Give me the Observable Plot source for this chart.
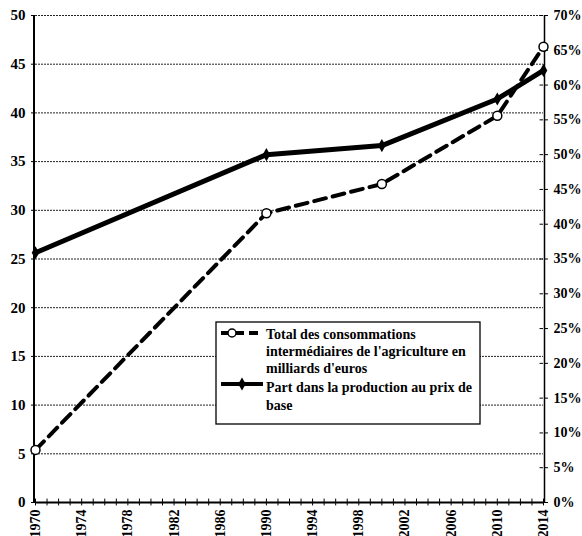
<!DOCTYPE html>
<html><head><meta charset="utf-8">
<script src="https://cdn.jsdelivr.net/npm/d3@7"></script>
<script src="https://cdn.jsdelivr.net/npm/@observablehq/plot@0.6"></script>
<style>
body{margin:0;background:#fff}
#chart{position:relative;width:582px;height:536px;overflow:hidden}
</style>
</head><body><div id="chart"></div>
<script>
const years = [1970, 1990, 2000, 2010, 2014];
const consommations = [5.4, 29.7, 32.7, 39.7, 46.8];   // milliards d'euros (left axis)
const partPct = [35.9, 50.0, 51.3, 58.0, 62.1];        // % (right axis)
const leftTicks = [0, 5, 10, 15, 20, 25, 30, 35, 40, 45, 50];
const rightTicks = [0, 5, 10, 15, 20, 25, 30, 35, 40, 45, 50, 55, 60, 65, 70];
const yearLabels = [1970, 1974, 1978, 1982, 1986, 1990, 1994, 1998, 2002, 2006, 2010, 2014];
const legendLabels = [
  ["Total des consommations", "intermédiaires de l'agriculture en", "milliards d'euros"],
  ["Part dans la production au prix de", "base"]
];

const k = 50 / 70; // right-axis % -> left-axis units
const data = years.map((y, i) => ({year: y, cons: consommations[i], part: partPct[i] * k}));
const font = "'Liberation Serif', 'Times New Roman', serif";

const plot = Plot.plot({
  width: 582,
  height: 536,
  marginTop: 15,
  marginBottom: 34,
  marginLeft: 35,
  marginRight: 39,
  style: {fontFamily: font, fontWeight: "bold", color: "#000", background: "#fff"},
  x: {domain: [1970, 2014], axis: null},
  y: {domain: [0, 50], axis: null},
  marks: [
    Plot.ruleY(leftTicks.filter(d => d > 0), {stroke: "#222", strokeWidth: 1, strokeDasharray: "2,1"}),
    Plot.axisY(leftTicks, {anchor: "left", tickSize: 4, tickPadding: 6, fontSize: 15, label: null}),
    Plot.axisY(rightTicks.map(p => p * k), {anchor: "right", tickSize: 4, tickPadding: 6, fontSize: 14, label: null,
      tickFormat: d => Math.round(d / k) + "%"}),
    Plot.ruleY(rightTicks.map(p => p * k), {x1: 2013.7, x2: 2014}),
    Plot.ruleX(d3.range(1970, 2015), {y1: -0.35, y2: 0.35, strokeWidth: 1}),
    Plot.axisX(yearLabels, {anchor: "bottom", tickSize: 0, tickRotate: -90, tickPadding: 7, fontSize: 14, label: null,
      tickFormat: d => String(d)}),
    Plot.ruleY([0], {strokeWidth: 2}),
    Plot.ruleX([1970], {strokeWidth: 2, dx: -1.5}),
    Plot.ruleX([2014], {strokeWidth: 1.5, dx: 1}),
    Plot.line(data, {x: "year", y: "cons", strokeWidth: 4, strokeDasharray: "12,7"}),
    Plot.dot(data, {x: "year", y: "cons", r: 4.5, fill: "white", stroke: "black", strokeWidth: 1.5}),
    Plot.line(data, {x: "year", y: "part", strokeWidth: 5}),
    Plot.dot(data, {x: "year", y: "part", symbol: "diamond", r: 4, fill: "black"})
  ]
});
document.getElementById("chart").appendChild(plot);

// legend box drawn inside the plot area
const svg = d3.select(plot);
const g = svg.append("g").attr("font-family", font).attr("font-weight", "bold")
  .attr("font-size", 14).attr("text-anchor", "start");
g.append("rect").attr("x", 216).attr("y", 322).attr("width", 264).attr("height", 102)
  .attr("fill", "white").attr("stroke", "black").attr("stroke-width", 1.3);
g.append("line").attr("x1", 221).attr("x2", 259).attr("y1", 333).attr("y2", 333)
  .attr("stroke", "black").attr("stroke-width", 4).attr("stroke-dasharray", "9,5");
g.append("circle").attr("cx", 232).attr("cy", 333).attr("r", 4).attr("fill", "white").attr("stroke", "black").attr("stroke-width", 1.5);
g.append("line").attr("x1", 221).attr("x2", 263).attr("y1", 384).attr("y2", 384)
  .attr("stroke", "black").attr("stroke-width", 4);
g.append("path").attr("d", d3.symbol(d3.symbolDiamond, 50)()).attr("transform", "translate(242,384)").attr("fill", "black");
const baselines = [[339, 356, 373], [392, 410]];
legendLabels.forEach((lines, i) => lines.forEach((t, j) => {
  g.append("text").attr("x", 266).attr("y", baselines[i][j]).attr("fill", "black")
    .attr("text-anchor", "start").text(t);
}));
</script>
</body></html>
